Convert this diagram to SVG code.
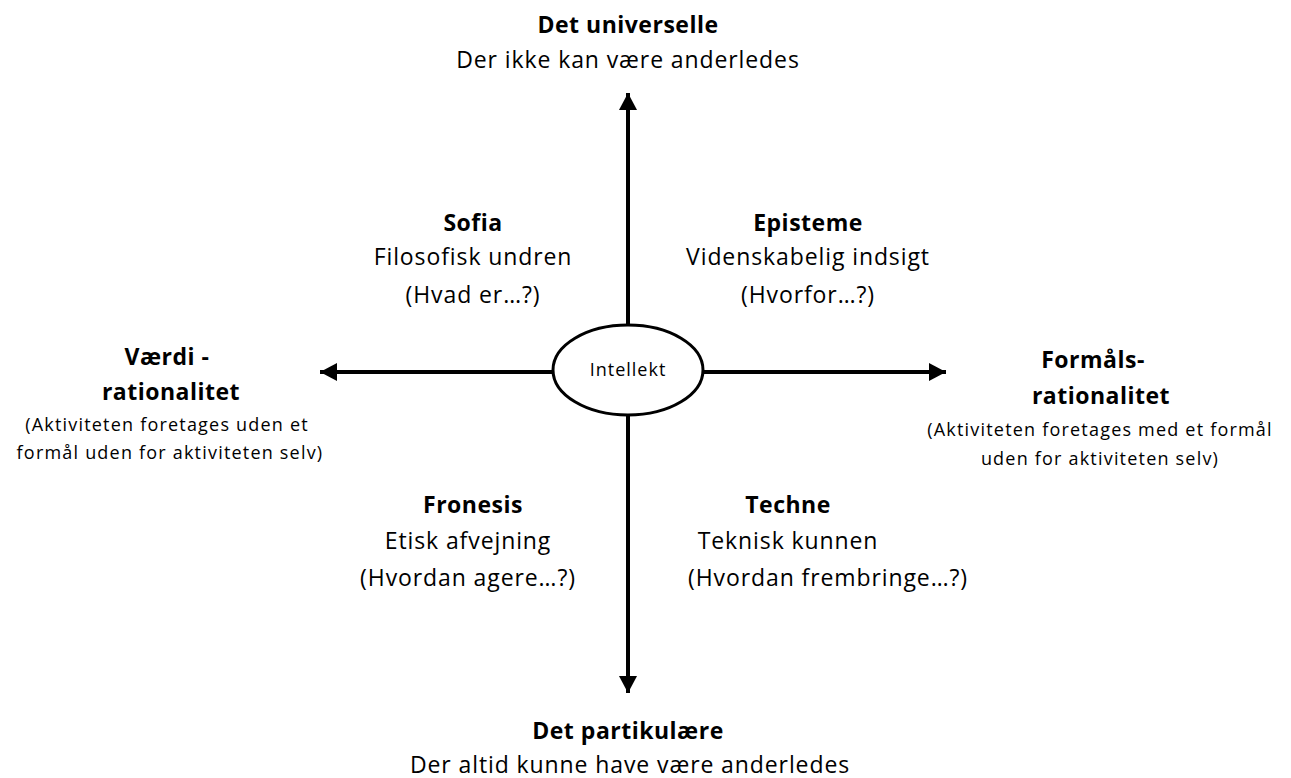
<svg xmlns="http://www.w3.org/2000/svg" width="1291" height="778" viewBox="0 0 1291 778">
<defs>
<marker id="ah" markerUnits="userSpaceOnUse" markerWidth="18" markerHeight="18" viewBox="0 0 18 18" refX="17" refY="9" orient="auto">
<path d="M0,0 L17,9 L0,18 Z" fill="#000"/>
</marker>
<style>
text{font-family:"Open Sans","Noto Sans",sans-serif;fill:#000;text-anchor:middle}
.b{font-weight:bold;font-size:23px;letter-spacing:0.5px}
.n{font-size:23px;letter-spacing:0.9px}
.s{font-size:18px;letter-spacing:1.2px}
.c{font-size:18px;letter-spacing:1px}
.ax{stroke:#000;stroke-width:4;fill:none}
</style>
</defs>
<rect width="1291" height="778" fill="#fff"/>
<g id="connectors">
<line class="ax" x1="628" y1="325" x2="628" y2="93" marker-end="url(#ah)"/>
<line class="ax" x1="628" y1="415" x2="628" y2="693" marker-end="url(#ah)"/>
<line class="ax" x1="553" y1="372" x2="320" y2="372" marker-end="url(#ah)"/>
<line class="ax" x1="703" y1="372" x2="946" y2="372" marker-end="url(#ah)"/>
</g>
<g id="intellekt">
<ellipse cx="628" cy="370" rx="75" ry="45" fill="#fff" stroke="#000" stroke-width="3"/>
<text class="c" x="628" y="376">Intellekt</text>
</g>
<g id="universelle">
<text class="b" x="628" y="33">Det universelle</text>
<text class="n" x="628" y="68">Der ikke kan være anderledes</text>
</g>
<g id="sofia">
<text class="b" x="473" y="231">Sofia</text>
<text class="n" x="473" y="265">Filosofisk undren</text>
<text class="n" x="473" y="303">(Hvad er…?)</text>
</g>
<g id="episteme">
<text class="b" x="808" y="231">Episteme</text>
<text class="n" x="808" y="265">Videnskabelig indsigt</text>
<text class="n" x="808" y="303">(Hvorfor…?)</text>
</g>
<g id="vaerdi">
<text class="b" x="167" y="365">Værdi -</text>
<text class="b" x="171" y="400">rationalitet</text>
<text class="s" x="167" y="431">(Aktiviteten foretages uden et</text>
<text class="s" x="170" y="459">formål uden for aktiviteten selv)</text>
</g>
<g id="formaals">
<text class="b" x="1093" y="368">Formåls-</text>
<text class="b" x="1101" y="404">rationalitet</text>
<text class="s" x="1100" y="436">(Aktiviteten foretages med et formål</text>
<text class="s" x="1100" y="465">uden for aktiviteten selv)</text>
</g>
<g id="fronesis">
<text class="b" x="473" y="513">Fronesis</text>
<text class="n" x="468" y="549">Etisk afvejning</text>
<text class="n" x="468" y="586">(Hvordan agere…?)</text>
</g>
<g id="techne">
<text class="b" x="788" y="513">Techne</text>
<text class="n" x="788" y="549">Teknisk kunnen</text>
<text class="n" x="828" y="586">(Hvordan frembringe…?)</text>
</g>
<g id="partikulaere">
<text class="b" x="628" y="739">Det partikulære</text>
<text class="n" x="630" y="773">Der altid kunne have være anderledes</text>
</g>
</svg>
